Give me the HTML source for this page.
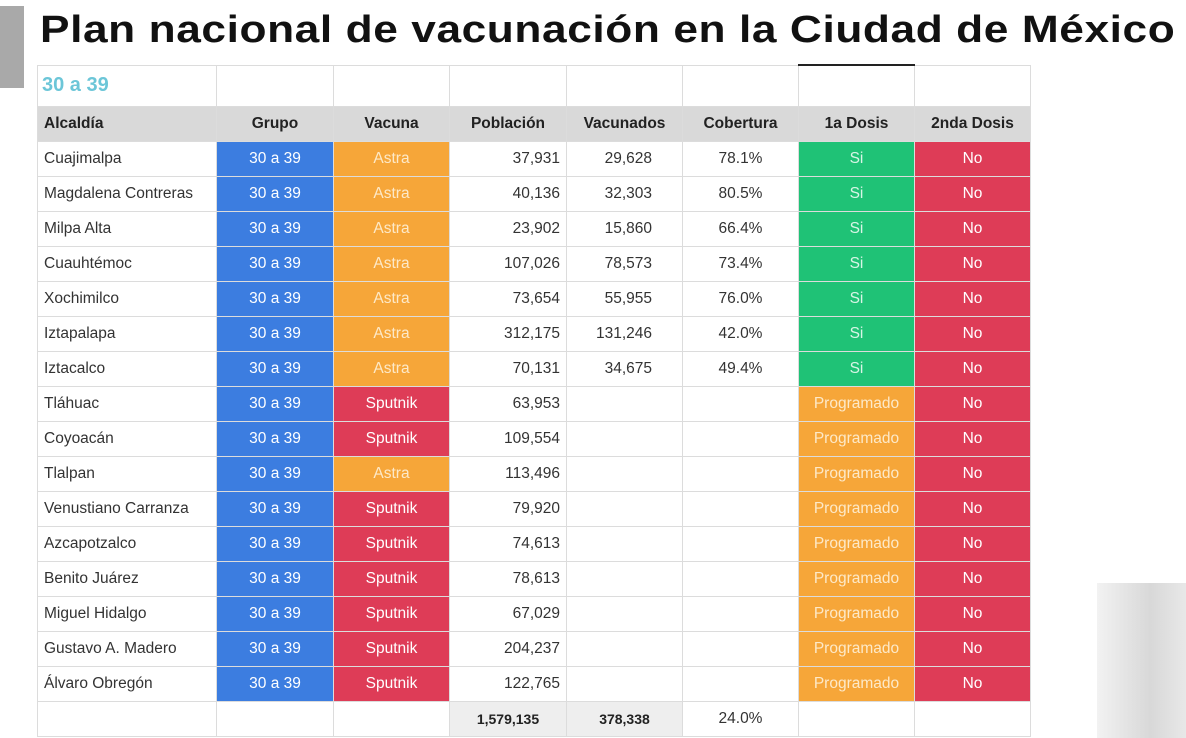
<!DOCTYPE html>
<html><head><meta charset="utf-8">
<style>
body{margin:0;width:1186px;height:738px;background:#fff;overflow:hidden;position:relative;font-family:"Liberation Sans",sans-serif;}
#bar{position:absolute;left:0;top:6px;width:24px;height:82px;background:#a9a9a9;}
#title{position:absolute;left:40px;top:9px;font-size:38px;font-weight:bold;color:#111;white-space:nowrap;transform-origin:0 0;letter-spacing:0.5px;}
#corner{position:absolute;left:1097px;top:583px;width:89px;height:155px;background:linear-gradient(90deg,#f2f2f2,#d8d8d8 60%,#e8e8e8);}
table{position:absolute;left:37px;top:64px;border-collapse:collapse;table-layout:fixed;width:993px;}
td{border:1.5px solid #dcdcdc;font-size:15.5px;color:#333;padding:0 6px;height:34px;overflow:hidden;white-space:nowrap;}
tr.top td{height:40px;}
tr.hd td{background:#d9d9d9;font-weight:bold;color:#222;text-align:center;height:34px;}
tr.hd td:first-child{text-align:left;}
.c{text-align:center;color:#fff;}
.r{text-align:right;}
.rv{text-align:right;padding-right:30px;}
.cc{text-align:center;}
.b{background:#3c7de0;} .o{background:#f6a639;color:#fde9c8;} .s{background:#de3c57;} .g{background:#1fc276;color:#d8f5e6;}
.tot{font-weight:bold;font-size:14px;background:#eee;text-align:center;color:#222;}
</style></head><body>
<div id="bar"></div>
<div id="title">Plan nacional de vacunación en la Ciudad de México</div>
<div id="corner"></div>
<table>
<colgroup><col style="width:179px"><col style="width:117px"><col style="width:116px"><col style="width:117px"><col style="width:116px"><col style="width:116px"><col style="width:116px"><col style="width:116px"></colgroup>
<tr class="top"><td style="color:#6cc6d8;font-size:20px;font-weight:bold;padding-left:4px">30 a 39</td><td></td><td></td><td></td><td></td><td></td><td style="border-top:2px solid #222"></td><td></td></tr>
<tr class="hd"><td>Alcaldía</td><td>Grupo</td><td>Vacuna</td><td>Población</td><td>Vacunados</td><td>Cobertura</td><td>1a Dosis</td><td>2nda Dosis</td></tr>
<tbody id="body"></tbody>
<tr><td></td><td></td><td></td><td class="tot">1,579,135</td><td class="tot">378,338</td><td style="text-align:center">24.0%</td><td></td><td></td></tr>
</table>
<script>
const names=["Cuajimalpa","Magdalena Contreras","Milpa Alta","Cuauhtémoc","Xochimilco","Iztapalapa","Iztacalco","Tláhuac","Coyoacán","Tlalpan","Venustiano Carranza","Azcapotzalco","Benito Juárez","Miguel Hidalgo","Gustavo A. Madero","Álvaro Obregón"];
const vacuna=["Astra","Astra","Astra","Astra","Astra","Astra","Astra","Sputnik","Sputnik","Astra","Sputnik","Sputnik","Sputnik","Sputnik","Sputnik","Sputnik"];
const poblacion=["37,931","40,136","23,902","107,026","73,654","312,175","70,131","63,953","109,554","113,496","79,920","74,613","78,613","67,029","204,237","122,765"];
const vacunados=["29,628","32,303","15,860","78,573","55,955","131,246","34,675","","","","","","","","",""];
const cobertura=["78.1%","80.5%","66.4%","73.4%","76.0%","42.0%","49.4%","","","","","","","","",""];
const body=document.getElementById('body');
names.forEach((n,i)=>{
  const tr=document.createElement('tr');
  
  
  const d1=i<7;
  tr.innerHTML=`<td>${n}</td><td class="c b">30 a 39</td><td class="c ${vacuna[i]=='Astra'?'o':'s'}">${vacuna[i]}</td><td class="r">${poblacion[i]}</td><td class="rv">${vacunados[i]}</td><td class="cc">${cobertura[i]}</td><td class="c ${d1?'g':'o'}">${d1?'Si':'Programado'}</td><td class="c s">No</td>`;
  body.appendChild(tr);
});
const t=document.getElementById('title');
t.style.transform='scaleX('+(1135/t.offsetWidth)+')';
</script>
</body></html>
